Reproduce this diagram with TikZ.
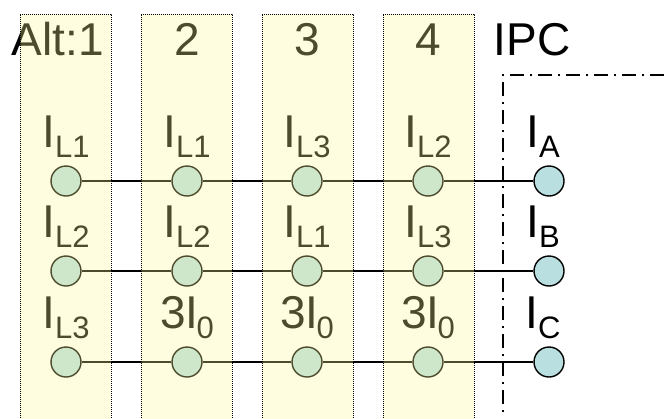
\documentclass[tikz,border=0pt]{standalone}
\usepackage{fontspec}
\setmainfont{Liberation Sans}
\usepackage{tikz}
\usetikzlibrary{positioning}
\definecolor{PhaseBlue}{RGB}{185,223,225}
\definecolor{AltYellow}{RGB}{255,250,150}
\tikzset{
  phase/.style={circle,draw=black,fill=PhaseBlue,line width=1.4pt,
    minimum size=30pt,inner sep=0pt},
  lbl/.style={anchor=base,font=\fontsize{46}{50}\selectfont,inner sep=0pt},
  wire/.style={line width=1.3pt,black},
  altcol/.style={fill=AltYellow,fill opacity=0.3,draw=black,
    densely dotted,line width=1pt},
  ipcbox/.style={line width=1.4pt,dash pattern=on 14pt off 6pt on 2pt off 6pt}
}
\newcommand{\lsub}[1]{\raisebox{-10pt}{\fontsize{31}{31}\selectfont #1}}

\begin{document}
\begin{tikzpicture}[x=1pt,y=-1pt]
  \useasboundingbox (0,0) rectangle (664,418);
  % IPC frame
  \draw[ipcbox] (664,75) -- (503,75) -- (503,412);
  % headings
  \node[lbl] (h1) at (58,55) {Alt:1};
  \node[lbl] (h2) at (187,55) {2};
  \node[lbl] (h3) at (307,55) {3};
  \node[lbl] (h4) at (428,55) {4};
  \node[lbl] (hipc) at (532,55) {IPC};
  % phases in each alternative
  \foreach \c/\x/\a/\b/\d in {1/66/L1/L2/L3, 2/187/L1/L2/0, 3/307/L3/L1/0, 4/428/L2/L3/0, 5/549/A/B/C}{
    \node[phase] (p\c a) at (\x,181) {};
    \node[phase] (p\c b) at (\x,271) {};
    \node[phase] (p\c c) at (\x,362) {};
  }
  \foreach \c/\x/\a/\b in {1/66/L1/L2, 2/187/L1/L2, 3/307/L3/L1, 4/428/L2/L3, 5/543/A/B}{
    \node[lbl] (n\c a) at (\x,147) {I\lsub{\a}};
    \node[lbl] (n\c b) at (\x,237) {I\lsub{\b}};
  }
  \node[lbl] (n1c) at (66,328) {I\lsub{L3}};
  \foreach \c in {2,3,4}
    \node[lbl] (n\c c) at (p\c c |- 0,328) {3I\kern-2pt\lsub{0}};
  \node[lbl] (n5c) at (543,328) {I\lsub{C}};
  % wires
  \foreach \r in {a,b,c}
    \draw[wire] (p1\r) -- (p2\r) -- (p3\r) -- (p4\r) -- (p5\r);
  % alternative columns
  \foreach \x in {20,141,262,383}
    \draw[altcol] (\x,430) -- (\x,14) -- (\x+91,14) -- (\x+91,430);
\end{tikzpicture}
\end{document}
